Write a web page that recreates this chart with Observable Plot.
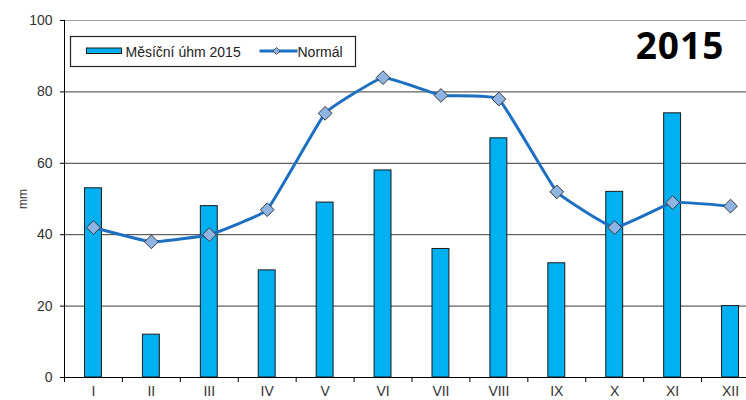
<!DOCTYPE html>
<html><head><meta charset="utf-8">
<script src="https://cdn.jsdelivr.net/npm/d3@7"></script>
<script src="https://cdn.jsdelivr.net/npm/@observablehq/plot@0.6"></script>
<style>
html,body{margin:0;padding:0;background:#fff;}
#wrap{position:relative;width:746px;height:400px;overflow:hidden;background:#fff;}
#wrap > svg{position:absolute;left:0;top:0;max-width:none !important;}
#overlay{position:absolute;left:0;top:0;pointer-events:none;}
</style></head><body><div id="wrap"></div>
<script>
const months = ["I","II","III","IV","V","VI","VII","VIII","IX","X","XI","XII"];
const rain2015 = [53,12,48,30,49,58,36,67,32,52,74,20];
const normal = [42,38,40,47,74,84,79,78,52,42,49,48];
const yTicks = [0,20,40,60,80,100];
const gridTicks = [20,40,60,80];
const seriesNames = ["Měsíční úhm 2015","Normál"];
const titleText = "2015";

const data = months.map((m,i)=>({month:m, rain:rain2015[i], normal:normal[i]}));
const W = 760, ML = 64, MR = 1;
const bw = (W - ML - MR) / months.length;
const font = "'Liberation Sans', Arial, sans-serif";

const plot = Plot.plot({
  width: W, height: 400,
  marginLeft: ML, marginRight: MR, marginTop: 20, marginBottom: 23,
  style: {fontFamily: font, fontSize: "14px", color: "#333", background: "white", overflow: "visible", maxWidth: "none"},
  x: {domain: months, padding: 0, round: false, label: null},
  y: {domain: [0,100], label: null},
  marks: [
    Plot.ruleY(gridTicks, {stroke: "#3a3a3a", strokeWidth: 1}),
    Plot.ruleY([100], {stroke: "#a0a0a0", strokeWidth: 1}),
    Plot.barY(data, {x: "month", y: "rain", fill: "#00b0f0", stroke: "#1a1a1a", strokeWidth: 1, insetLeft: 20.5, insetRight: 20.5}),
    Plot.line(data, {x: "month", y: "normal", stroke: "#1d6fc1", strokeWidth: 3, curve: "cardinal", tension: 0.7}),
    Plot.dot(data, {x: "month", y: "normal", symbol: "diamond2", r: 6.2, fill: "#8db4e2", stroke: "#3a3a3a", strokeWidth: 1}),
    Plot.axisY({ticks: yTicks, tickSize: 4, tickPadding: 8, label: "mm", labelAnchor: "center", labelArrow: "none", labelOffset: 46, stroke: "#000", fontSize: 14}),
    Plot.axisX({tickSize: 0, tickPadding: 9, label: null, fontSize: 14}),
    Plot.axisX({tickSize: 5, dx: -bw/2, tickFormat: () => "", label: null, stroke: "#000"}),
    Plot.ruleY([0], {stroke: "#000"}),
    Plot.frame({anchor: "left", stroke: "#000"})
  ]
});
const wrap = document.getElementById("wrap");
wrap.appendChild(plot);
d3.select(plot).selectAll("g[aria-label='y-axis label'] text").attr("font-size", 12);

const ov = d3.select(wrap).append("svg").attr("id","overlay").attr("width",746).attr("height",400)
  .style("font-family", font);
const lg = ov.append("g").attr("transform","translate(70.5,36.5)");
lg.append("rect").attr("width",285).attr("height",30).attr("fill","#fff").attr("stroke","#222").attr("stroke-width",1.2);
lg.append("rect").attr("x",16).attr("y",11.5).attr("width",35).attr("height",5.5).attr("fill","#00b0f0").attr("stroke","#1a1a1a").attr("stroke-width",1);
lg.append("text").attr("x",55).attr("y",20).attr("font-size",14).attr("fill","#222").text(seriesNames[0]);
lg.append("line").attr("x1",189).attr("x2",227).attr("y1",14.5).attr("y2",14.5).attr("stroke","#1d6fc1").attr("stroke-width",3);
lg.append("path").attr("d","M206,11L209.5,14.5L206,18L202.5,14.5Z").attr("fill","#8db4e2").attr("stroke","#3a3a3a").attr("stroke-width",0.8);
lg.append("text").attr("x",227).attr("y",20).attr("font-size",14).attr("fill","#222").text(seriesNames[1]);

ov.append("text").attr("x",680).attr("y",59).attr("text-anchor","middle")
  .attr("font-family","'Open Sans', sans-serif").attr("font-weight",700).attr("font-size",37)
  .attr("letter-spacing",1).attr("fill","#000").text(titleText);
</script>
</body></html>
